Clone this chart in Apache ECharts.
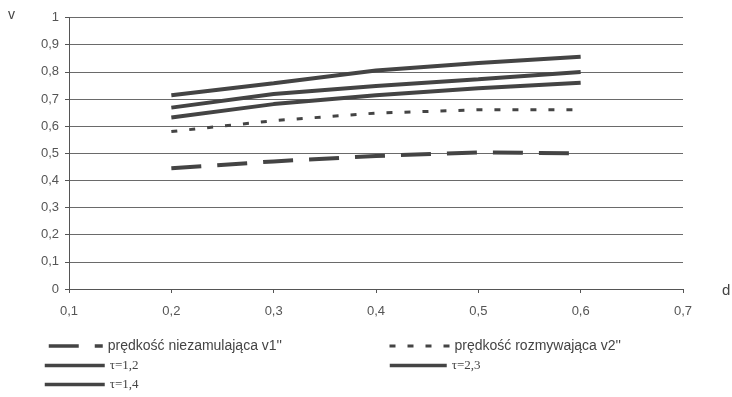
<!DOCTYPE html>
<html><head><meta charset="utf-8">
<script src="https://cdn.jsdelivr.net/npm/echarts@6/dist/echarts.min.js"></script>
<style>html,body{margin:0;padding:0;background:#fff}#c{width:732px;height:397px}</style>
</head><body><div id="c"></div>
<script>
const dValues = [0.2, 0.3, 0.4, 0.5, 0.6];
const v1 = [0.445, 0.47, 0.49, 0.503, 0.50];
const v2 = [0.58, 0.62, 0.648, 0.66, 0.66];
const tau12 = [0.714, 0.758, 0.805, 0.832, 0.855];
const tau23 = [0.668, 0.718, 0.748, 0.773, 0.799];
const tau14 = [0.632, 0.681, 0.714, 0.739, 0.760];
const names = ["prędkość niezamulająca v1''", "prędkość rozmywająca v2''", "τ=1,2", "τ=2,3", "τ=1,4"];
const xTicks = [0.1, 0.2, 0.3, 0.4, 0.5, 0.6, 0.7];
const yTicks = [0, 0.1, 0.2, 0.3, 0.4, 0.5, 0.6, 0.7, 0.8, 0.9, 1];

const fmt = v => String(Math.round(v * 10) / 10).replace('.', ',');
const pairs = arr => dValues.map((d, i) => [d, arr[i]]);
const dark = '#444';
const chart = echarts.init(document.getElementById('c'));
function mk(name, data, width, dash) {
  return { name, type: 'line', data: pairs(data), symbol: 'none', smooth: false,
    lineStyle: { color: dark, width, type: dash || 'solid' }, itemStyle: { color: dark } };
}
const sansText = { color: '#444', fontSize: 14, fontFamily: 'Liberation Sans' };
const serifText = { color: '#444', fontSize: 13, fontFamily: 'Liberation Serif' };
const legBase = { orient: 'horizontal', itemHeight: 10, itemGap: 6, padding: 0,
  itemStyle: { color: 'rgba(0,0,0,0)', borderWidth: 0, opacity: 0 } };
chart.setOption({
  animation: false,
  grid: { left: 69, right: 49, top: 17.5, bottom: 108 },
  xAxis: { type: 'value', min: xTicks[0], max: xTicks[xTicks.length - 1], interval: 0.1,
    axisLine: { lineStyle: { color: '#555', width: 1 } },
    axisTick: { show: true, length: 4, lineStyle: { color: '#555' } },
    axisLabel: { color: '#555', fontSize: 13, fontFamily: 'Liberation Sans', margin: 16, formatter: fmt },
    splitLine: { show: false } },
  yAxis: { type: 'value', min: yTicks[0], max: yTicks[yTicks.length - 1], interval: 0.1,
    axisLine: { show: true, lineStyle: { color: '#555', width: 1 } },
    axisTick: { show: true, length: 4, lineStyle: { color: '#555' } },
    axisLabel: { color: '#555', fontSize: 13, fontFamily: 'Liberation Sans', margin: 10, formatter: fmt },
    splitLine: { show: true, lineStyle: { color: '#6a6a6a', width: 1 } } },
  legend: [
    Object.assign({}, legBase, { data: [names[0]], left: 47, top: 339, itemWidth: 54, textStyle: sansText, lineStyle: { width: 3.5 } }),
    Object.assign({}, legBase, { data: [names[1]], left: 388, top: 339, itemWidth: 60, textStyle: sansText, lineStyle: { width: 3 } }),
    Object.assign({}, legBase, { data: [names[2]], left: 43, top: 359, itemWidth: 60, textStyle: serifText, lineStyle: { width: 3.5 } }),
    Object.assign({}, legBase, { data: [names[3]], left: 388, top: 359, itemWidth: 57, textStyle: serifText, lineStyle: { width: 3.5 } }),
    Object.assign({}, legBase, { data: [names[4]], left: 43, top: 378, itemWidth: 60, textStyle: serifText, lineStyle: { width: 3.5 } })
  ],
  series: [
    mk(names[0], v1, 4, [30, 16]),
    mk(names[1], v2, 3, [6, 12]),
    mk(names[2], tau12, 4),
    mk(names[3], tau23, 4),
    mk(names[4], tau14, 4)
  ],
  graphic: [
    { type: 'text', left: 8, top: 8, style: { text: 'v', fill: '#444', fontSize: 14, fontFamily: 'Liberation Sans' } },
    { type: 'text', left: 722, top: 283, style: { text: 'd', fill: '#444', fontSize: 15, fontFamily: 'Liberation Sans' } }
  ]
});
</script></body></html>
